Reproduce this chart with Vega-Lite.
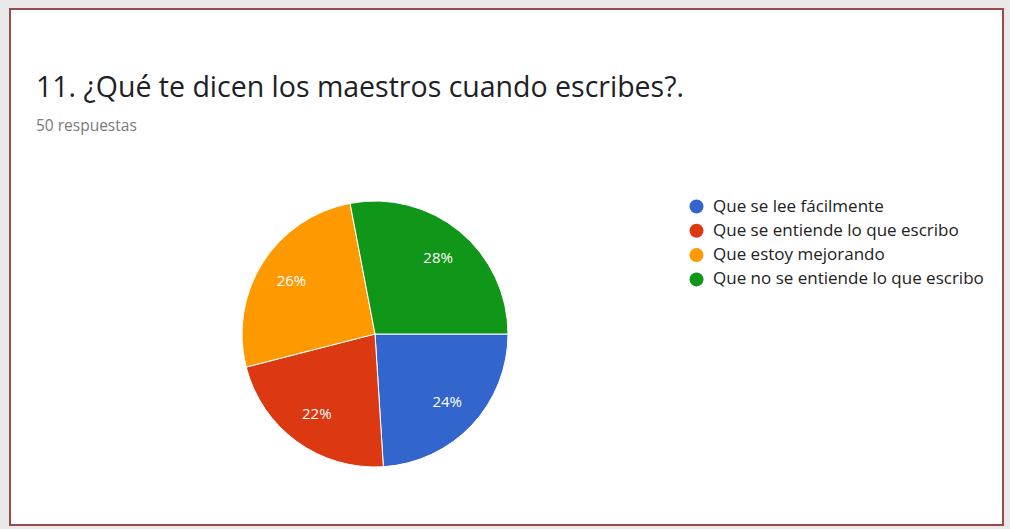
{
  "$schema": "https://vega.github.io/schema/vega-lite/v6.json",
  "autosize": {"type": "none"},
  "width": 993,
  "height": 516,
  "padding": {"left": 10, "top": 9, "right": 7, "bottom": 4},
  "background": "#e9e9e9",
  "view": {"fill": "#ffffff", "stroke": "#9a4a4a", "strokeWidth": 2},
  "config": {
    "view": {"fill": "#ffffff", "stroke": "#9a4a4a", "strokeWidth": 2},
    "font": "Open Sans"
  },
  "title": {
    "text": "11. ¿Qué te dicen los maestros cuando escribes?.",
    "subtitle": "50 respuestas",
    "anchor": "start",
    "frame": "group",
    "orient": "top",
    "offset": -125,
    "dx": 26,
    "font": "Open Sans",
    "fontSize": 28.5,
    "fontWeight": "normal",
    "color": "#202124",
    "subtitleFont": "Open Sans",
    "subtitleFontSize": 15.5,
    "subtitleColor": "#7a7a7a",
    "subtitlePadding": 16
  },
  "data": {
    "values": [
      {"respuesta": "Que se lee fácilmente", "n": 12, "pct": "24%", "orden": 1},
      {"respuesta": "Que se entiende lo que escribo", "n": 11, "pct": "22%", "orden": 2},
      {"respuesta": "Que estoy mejorando", "n": 13, "pct": "26%", "orden": 3},
      {"respuesta": "Que no se entiende lo que escribo", "n": 14, "pct": "28%", "orden": 4}
    ]
  },
  "encoding": {
    "theta": {"field": "n", "type": "quantitative", "stack": true, "scale": {"range": [1.5708, 7.854]}},
    "order": {"field": "orden", "type": "quantitative"}
  },
  "layer": [
    {
      "mark": {"type": "arc", "x": 365, "y": 325, "outerRadius": 133, "stroke": "#ffffff", "strokeWidth": 1},
      "encoding": {
        "color": {
          "field": "respuesta",
          "type": "nominal",
          "sort": null,
          "scale": {
            "domain": ["Que se lee fácilmente", "Que se entiende lo que escribo", "Que estoy mejorando", "Que no se entiende lo que escribo"],
            "range": ["#3366cc", "#dc3912", "#ff9900", "#109618"]
          },
          "legend": {
            "title": null,
            "orient": "none",
            "legendX": 678,
            "legendY": 189,
            "symbolType": "circle",
            "symbolSize": 196,
            "symbolStrokeWidth": 0,
            "labelFont": "Open Sans",
            "labelFontSize": 17,
            "labelColor": "#222222",
            "labelOffset": 8,
            "labelLimit": 400,
            "rowPadding": 6.3,
            "padding": 0
          }
        }
      }
    },
    {
      "mark": {"type": "text", "x": 365, "y": 325, "radius": 99, "color": "#ffffff", "fontSize": 15, "font": "Open Sans"},
      "encoding": {
        "text": {"field": "pct", "type": "nominal"}
      }
    }
  ]
}
